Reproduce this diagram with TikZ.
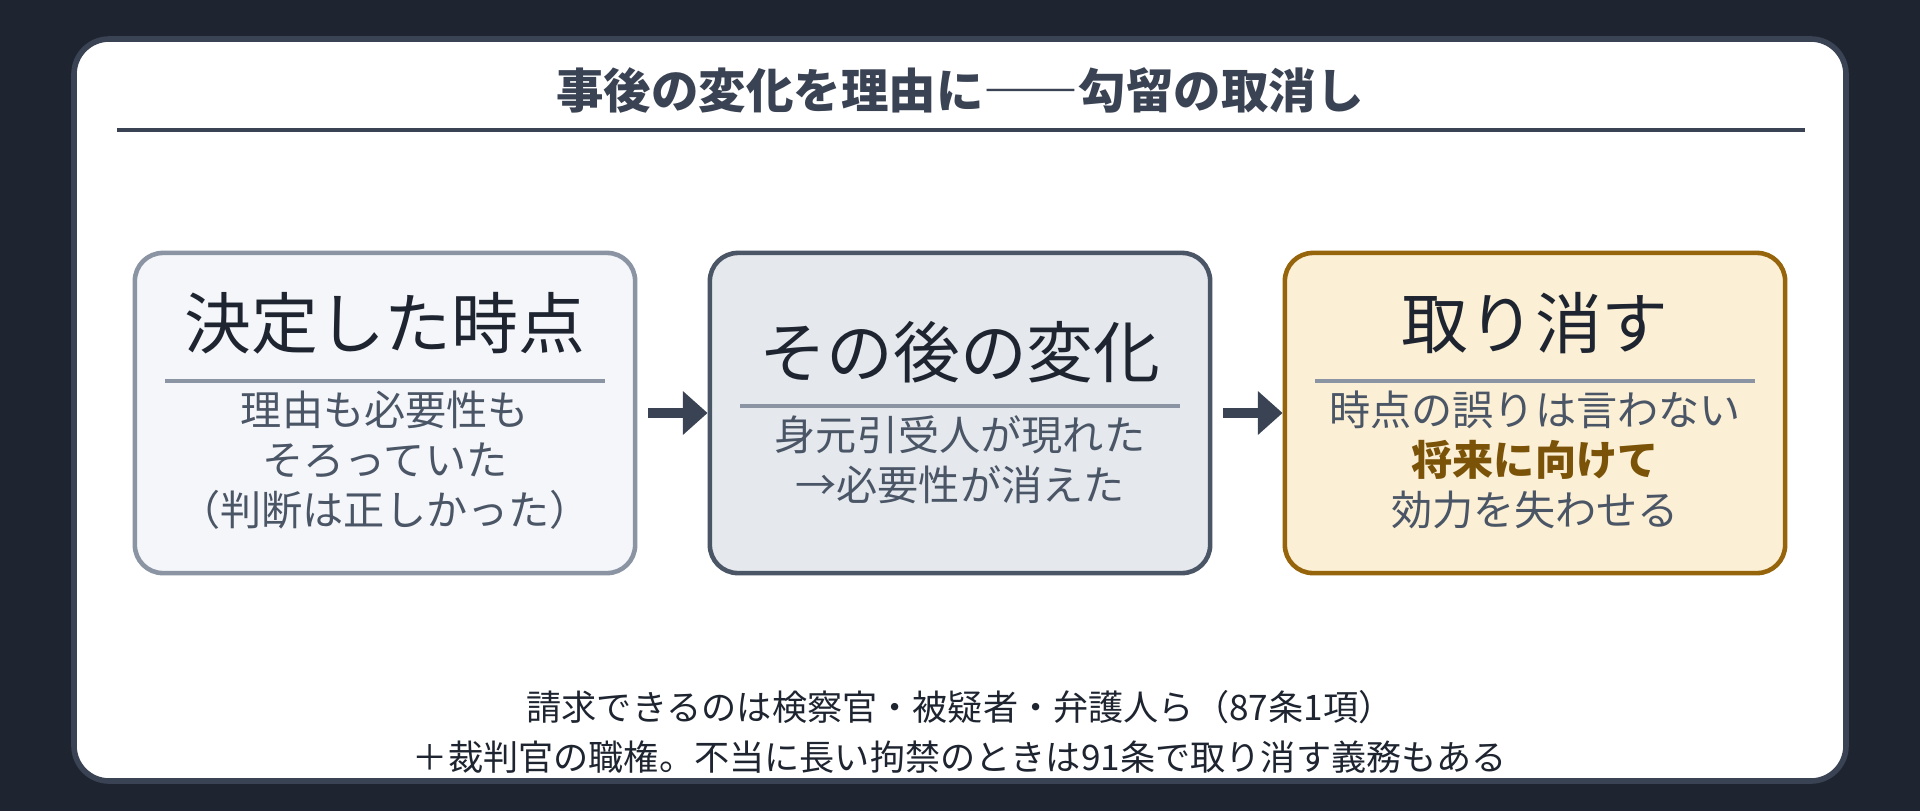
\documentclass[tikz,border=0pt]{standalone}
\usepackage{fontspec}
\setmainfont{Noto Sans CJK JP}
\usetikzlibrary{arrows.meta,positioning}
\definecolor{bgdark}{HTML}{1E2530}
\definecolor{cardline}{HTML}{3A4354}
\definecolor{ink}{HTML}{1E2530}
\definecolor{subink}{HTML}{4A5566}
\definecolor{boxafill}{HTML}{F4F6F9}
\definecolor{boxaline}{HTML}{8A94A3}
\definecolor{boxbfill}{HTML}{E5E9EE}
\definecolor{boxbline}{HTML}{4A5566}
\definecolor{boxcfill}{HTML}{FBEFD5}
\definecolor{boxcline}{HTML}{96640A}
\definecolor{gold}{HTML}{7A5308}
\tikzset{
  stage/.style={draw,rounded corners=8pt,line width=1.3pt,minimum width=5.0cm,minimum height=3.2cm},
  head/.style={font=\fontsize{19}{22}\selectfont,text=ink},
  sub/.style={font=\fontsize{11.7}{14.2}\selectfont,text=subink,align=center},
  flow/.style={-{Triangle[length=7pt,width=12pt]},line width=2.6pt,draw=cardline,shorten <=3pt}
}
\begin{document}
\begin{tikzpicture}[x=0.01cm,y=-0.01cm]
  \useasboundingbox (0,0) rectangle (1920,811);
  \fill[bgdark] (0,0) rectangle (1920,811);
  \draw[fill=white,draw=cardline,line width=1.6pt,rounded corners=10pt] (74,39) rectangle (1846,781);

  % title
  \node[name=title,font=\fontsize{13.5}{16}\selectfont\bfseries,text=cardline] at (960,90) {事後の変化を理由に――勾留の取消し};
  \draw[cardline,line width=1pt] (117,130) -- (1805,130);

  % stages
  \node[name=a,stage,draw=boxaline,fill=boxafill] at (385,413) {};
  \node[name=b,stage,draw=boxbline,fill=boxbfill] at (960,413) {};
  \node[name=c,stage,draw=boxcline,fill=boxcfill] at (1535,413) {};

  \node[name=ah,head] at (385,323) {決定した時点};
  \draw[boxaline,line width=1pt] (165,381) -- (605,381);
  \node[name=as,sub] at (385,460) {理由も必要性も\\そろっていた\\（判断は正しかった）};

  \node[name=bh,head] at (960,352) {その後の変化};
  \draw[boxaline,line width=1pt] (740,406) -- (1180,406);
  \node[name=bs,sub] at (960,460) {身元引受人が現れた\\→必要性が消えた};

  \node[name=ch,head] at (1535,323) {取り消す};
  \draw[boxaline,line width=1pt] (1315,381) -- (1755,381);
  \node[name=cs,sub] at (1535,460) {時点の誤りは言わない\\{\color{gold}\bfseries 将来に向けて}\\効力を失わせる};

  \draw[flow] (a) -- (b);
  \draw[flow] (b) -- (c);

  % note
  \node[name=note,font=\fontsize{10}{14.2}\selectfont,text=ink,align=center] at (960,732)
    {請求できるのは検察官・被疑者・弁護人ら（87条1項）\\＋裁判官の職権。不当に長い拘禁のときは91条で取り消す義務もある};
\end{tikzpicture}
\end{document}
